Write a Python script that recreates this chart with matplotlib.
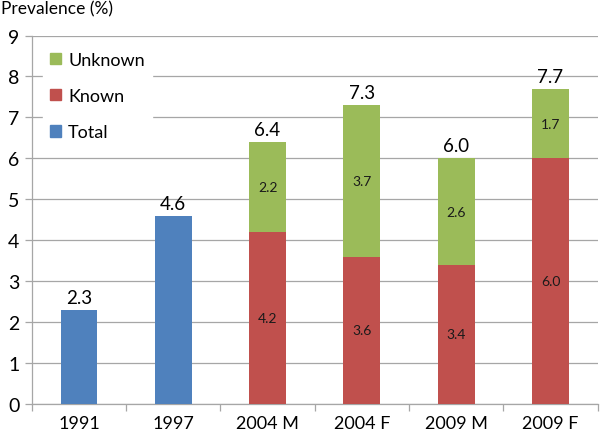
import matplotlib
matplotlib.use("Agg")
import matplotlib.pyplot as plt
import numpy as np
from matplotlib.patches import Patch

categories = ["1991", "1997", "2004 M", "2004 F", "2009 M", "2009 F"]
total_only = [2.3, 4.6]          # 1991, 1997
known = [4.2, 3.6, 3.4, 6.0]     # 2004 M .. 2009 F
unknown = [2.2, 3.7, 2.6, 1.7]
totals_label = ["2.3", "4.6", "6.4", "7.3", "6.0", "7.7"]

blue = "#4F81BD"
red = "#C0504D"
green = "#9BBB59"
gray = "#A6A6A6"

plt.rcParams['font.family'] = ['Lato', 'DejaVu Sans']

fig = plt.figure(figsize=(6, 4.35), dpi=100)
ax = fig.add_axes([0.053, 0.069, 0.943, 0.847])

x = np.arange(len(categories))
w = 0.39
xt = x[:2]
xs = x[2:]
ax.bar(xt, total_only, width=w, color=blue, zorder=3)
ax.bar(xs, known, width=w, color=red, zorder=3)
ax.bar(xs, unknown, width=w, bottom=known, color=green, zorder=3)

tops = list(total_only) + [k + u for k, u in zip(known, unknown)]
for xi, t, lab in zip(x, tops, totals_label):
    ax.text(xi, t + 0.1, lab, ha="center", va="bottom", fontsize=13.5, color="black", zorder=4)

for xi, k, u in zip(xs, known, unknown):
    ax.text(xi, k / 2, f"{k:.1f}", ha="center", va="center", fontsize=10, color="#1a1a1a", zorder=4)
    ax.text(xi, k + u / 2, f"{u:.1f}", ha="center", va="center", fontsize=10, color="#1a1a1a", zorder=4)

ax.set_xlim(-0.5, len(categories) - 0.5)
ax.set_ylim(0, 9)
ax.set_yticks(range(0, 10))
ax.yaxis.grid(True, color=gray, linewidth=0.9, zorder=0)
ax.set_axisbelow(True)

ax.set_xticks(x)
ax.set_xticklabels(categories, fontsize=13)
ax.set_xticks(np.arange(-0.5, len(categories)), minor=True)
ax.tick_params(axis="x", which="major", length=0, pad=8)
ax.tick_params(axis="x", which="minor", length=5, color=gray, width=0.9)
ax.tick_params(axis="y", which="major", length=5, color=gray, width=0.9, labelsize=14, pad=4)

for s in ["top", "right"]:
    ax.spines[s].set_visible(False)
for s in ["left", "bottom"]:
    ax.spines[s].set_color(gray)
    ax.spines[s].set_linewidth(0.9)

fig.text(0.002, 0.997, "Prevalence (%)", ha="left", va="top", fontsize=12.5)

handles = [Patch(color=green, label="Unknown"),
           Patch(color=red, label="Known"),
           Patch(color=blue, label="Total")]
leg = ax.legend(handles=handles, loc="upper left", bbox_to_anchor=(0.01, 0.99),
                frameon=True, fontsize=13, handlelength=0.6, handleheight=0.6,
                handletextpad=0.4, labelspacing=1.12, borderaxespad=0.3,
                borderpad=0.4, fancybox=False)
leg.get_frame().set_facecolor("white")
leg.get_frame().set_edgecolor("white")
leg.get_frame().set_alpha(1)
leg.set_zorder(5)

fig.savefig("out.png", dpi=100)
